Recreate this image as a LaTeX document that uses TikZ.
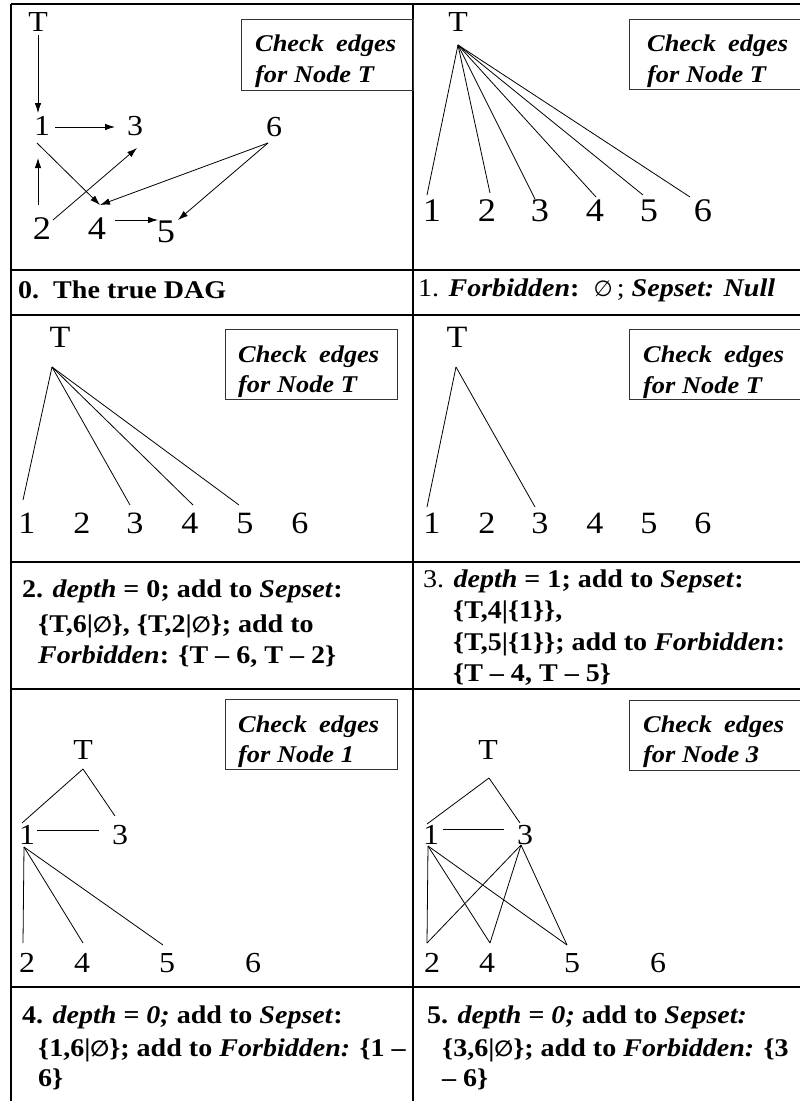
\documentclass[tikz,border=0pt]{standalone}
\usepackage{fontspec}
\setmainfont[FakeStretch=1.1]{Liberation Serif}
\newfontfamily\symfont{DejaVu Sans}
\usetikzlibrary{arrows.meta}
\newcommand{\bi}[1]{\textbf{\textit{#1}}}
\newcommand{\es}{{\symfont\fontsize{22}{26}\selectfont ∅}}
\tikzset{
  tbl/.style={line width=1.3pt},
  edge/.style={line width=0.8pt},
  arr/.style={edge,-{Latex[length=10pt,width=6.5pt]}},
  chkbox/.style={draw=black!80, line width=1pt, anchor=north west, inner sep=0pt},
  chktxt/.style={anchor=base west, inner sep=0pt, font=\fontsize{24}{28}\selectfont\bfseries\itshape},
  lbl/.style={inner sep=0pt, anchor=center, font=\fontsize{29}{34}\selectfont},
  lblbig/.style={inner sep=0pt, anchor=center, font=\fontsize{33}{38}\selectfont},
  lblmid/.style={inner sep=0pt, anchor=center, font=\fontsize{31}{36}\selectfont},
  captxt/.style={anchor=base west, inner sep=0pt, font=\fontsize{25.5}{30}\selectfont\bfseries},
  capn/.style={anchor=base west, inner sep=0pt, font=\fontsize{25.5}{30}\selectfont},
}
\begin{document}
\begin{tikzpicture}[x=1pt,y=-1pt]
\useasboundingbox (0,0) rectangle (800,1101);
\clip (0,0) rectangle (800,1101);
\fill[white] (0,0) rectangle (800,1101);

% ---- table grid ----
\draw[tbl] (11,4) -- (11,1101);
\draw[tbl] (413,4) -- (413,1101);
\foreach \yy in {4,270,315,562,689,987} \draw[tbl] (11,\yy) -- (810,\yy);

% ---- check boxes ----
\node[chkbox, minimum width=172pt, minimum height=71pt] (box0) at (241,19) {};
\node[chktxt] (bt0a) at (255,51) {Check\hspace{0.5em}edges};
\node[chktxt] (bt0b) at (255,82) {for Node T};
\node[chkbox, minimum width=200pt, minimum height=70pt] (box1) at (629,19) {};
\node[chktxt] (bt1a) at (647,51) {Check\hspace{0.5em}edges};
\node[chktxt] (bt1b) at (647,82) {for Node T};
\node[chkbox, minimum width=172pt, minimum height=70pt] (box2) at (225,329) {};
\node[chktxt] (bt2a) at (238,362) {Check\hspace{0.5em}edges};
\node[chktxt] (bt2b) at (238,392) {for Node T};
\node[chkbox, minimum width=200pt, minimum height=70pt] (box3) at (629,329) {};
\node[chktxt] (bt3a) at (643,362) {Check\hspace{0.5em}edges};
\node[chktxt] (bt3b) at (643,393) {for Node T};
\node[chkbox, minimum width=172pt, minimum height=70pt] (box4) at (225,699) {};
\node[chktxt] (bt4a) at (238,732) {Check\hspace{0.5em}edges};
\node[chktxt] (bt4b) at (238,762) {for Node 1};
\node[chkbox, minimum width=200pt, minimum height=70pt] (box5) at (629,700) {};
\node[chktxt] (bt5a) at (643,732) {Check\hspace{0.5em}edges};
\node[chktxt] (bt5b) at (643,762) {for Node 3};

% ---- panel 0: the true DAG ----
\node[lbl] (aT) at (38,22) {T};
\node[lbl] (a1) at (42,126) {1};
\node[lbl] (a3) at (135,126) {3};
\node[lbl] (a6) at (274,127) {6};
\node[lblbig] (a2) at (42,229) {2};
\node[lblbig] (a4) at (97,229) {4};
\node[lblbig] (a5) at (166,232) {5};
\coordinate (aTs) at (38,35);   \coordinate (a1n) at (38,113);
\coordinate (a1e) at (55,127);  \coordinate (a3w) at (115,127);
\coordinate (a1se) at (37,143); \coordinate (a4n) at (100,205);
\coordinate (a2n) at (38,205);  \coordinate (a1s) at (38,158);
\coordinate (a2ne) at (53,220); \coordinate (a3sw) at (137,148);
\coordinate (a4e) at (115,220); \coordinate (a5w) at (158,220);
\coordinate (a6sw) at (268,143);\coordinate (a5ne) at (178,220);
\draw[arr] (aTs) -- (a1n);
\draw[arr] (a1e) -- (a3w);
\draw[arr] (a1se) -- (a4n);
\draw[arr] (a2n) -- (a1s);
\draw[arr] (a2ne) -- (a3sw);
\draw[arr] (a4e) -- (a5w);
\draw[arr] (a6sw) -- (a4n);
\draw[arr] (a6sw) -- (a5ne);
\node[captxt] (c0) at (18,298) {0.\ \ The true DAG};

% ---- panel 1 ----
\node[lbl] (bT) at (458,22) {T};
\coordinate (bA) at (458,45);
\node[lblbig] (b1) at (432,211) {1};
\node[lblbig] (b2) at (487,211) {2};
\node[lblbig] (b3) at (540,211) {3};
\node[lblbig] (b4) at (595,211) {4};
\node[lblbig] (b5) at (649,211) {5};
\node[lblbig] (b6) at (703,211) {6};
\coordinate (b1n) at (427,195); \coordinate (b2n) at (490,193);
\coordinate (b3n) at (535,199); \coordinate (b4n) at (596,197);
\coordinate (b5n) at (643,195); \coordinate (b6n) at (690,197);
\foreach \e in {b1n,b2n,b3n,b4n,b5n,b6n} \draw[edge] (bA) -- (\e);
\node[capn] (c1) at (418,296) {1. \bi{Forbidden}\textbf{:}\ \ \es\,; \bi{Sepset: Null}};

% ---- panel 2 ----
\node[lblmid] (cT) at (60,337) {T};
\coordinate (cA) at (52,367);
\node[lblmid] (c1n) at (27,523) {1};
\node[lblmid] (c2n) at (82,523) {2};
\node[lblmid] (c3n) at (135,523) {3};
\node[lblmid] (c4n) at (190,523) {4};
\node[lblmid] (c5n) at (245,523) {5};
\node[lblmid] (c6n) at (300,523) {6};
\coordinate (c1t) at (23,500); \coordinate (c3t) at (130,505);
\coordinate (c4t) at (193,505); \coordinate (c5t) at (239,505);
\foreach \e in {c1t,c3t,c4t,c5t} \draw[edge] (cA) -- (\e);
\node[captxt] (cap2a) at (22,597) {2. \textit{depth} = 0; add to \textit{Sepset}:};
\node[captxt] (cap2b) at (38,632) {\{T,6|\es\}, \{T,2|\es\}; add to};
\node[captxt] (cap2c) at (38,663) {\textit{Forbidden}: \{T -- 6, T -- 2\}};

% ---- panel 3 ----
\node[lblmid] (dT) at (457,337) {T};
\coordinate (dA) at (456,367);
\node[lblmid] (d1) at (432,523) {1};
\node[lblmid] (d2) at (487,523) {2};
\node[lblmid] (d3) at (540,523) {3};
\node[lblmid] (d4) at (595,523) {4};
\node[lblmid] (d5) at (649,523) {5};
\node[lblmid] (d6) at (703,523) {6};
\coordinate (d1t) at (427,507); \coordinate (d3t) at (535,507);
\draw[edge] (dA) -- (d1t);
\draw[edge] (dA) -- (d3t);
\node[capn] (cap3a) at (423,587) {3. \bi{depth} \textbf{= 1; add to} \bi{Sepset}\textbf{:}};
\node[captxt] (cap3b) at (453,618) {\{T,4|\{1\}\},};
\node[captxt] (cap3c) at (453,650) {\{T,5|\{1\}\}; add to \textit{Forbidden}:};
\node[captxt] (cap3d) at (453,681) {\{T -- 4, T -- 5\}};

% ---- panel 4 ----
\node[lbl] (eT) at (83,750) {T};
\coordinate (eA) at (83,769);
\node[lbl] (e1) at (27,835) {1};
\node[lbl] (e3) at (120,835) {3};
\node[lbl] (e2) at (27,963) {2};
\node[lbl] (e4) at (82,963) {4};
\node[lbl] (e5) at (167,963) {5};
\node[lbl] (e6) at (253,963) {6};
\coordinate (e1t) at (22,823); \coordinate (e3t) at (115,816);
\coordinate (e1r) at (37,830);  \coordinate (e3l) at (99,830);
\coordinate (e1b) at (24,847);
\coordinate (e2t) at (23,943); \coordinate (e4t) at (83,943); \coordinate (e5t) at (163,945);
\draw[edge] (eA) -- (e1t);
\draw[edge] (eA) -- (e3t);
\draw[edge] (e1r) -- (e3l);
\foreach \e in {e2t,e4t,e5t} \draw[edge] (e1b) -- (\e);
\node[captxt] (cap4a) at (22,1023) {4. \textit{depth = 0;} add to \textit{Sepset}:};
\node[captxt] (cap4b) at (38,1056) {\{1,6|\es\}; add to \textit{Forbidden:} \{1 --};
\node[captxt] (cap4c) at (38,1086) {6\}};

% ---- panel 5 ----
\node[lbl] (fT) at (488,750) {T};
\coordinate (fA) at (489,778);
\node[lbl] (f1) at (431,835) {1};
\node[lbl] (f3) at (525,835) {3};
\node[lbl] (f2) at (432,963) {2};
\node[lbl] (f4) at (487,963) {4};
\node[lbl] (f5) at (572,963) {5};
\node[lbl] (f6) at (658,963) {6};
\coordinate (f1t) at (427,824); \coordinate (f3t) at (520,823);
\coordinate (f1r) at (443,829); \coordinate (f3l) at (504,829);
\coordinate (f1b) at (428,846); \coordinate (f3b) at (521,845);
\coordinate (f2t) at (427,943); \coordinate (f4t) at (490,943); \coordinate (f5t) at (567,945);
\draw[edge] (fA) -- (f1t);
\draw[edge] (fA) -- (f3t);
\draw[edge] (f1r) -- (f3l);
\foreach \e in {f2t,f4t,f5t} {\draw[edge] (f1b) -- (\e); \draw[edge] (f3b) -- (\e);}
\node[captxt] (cap5a) at (427,1023) {5. \textit{depth = 0;} add to \textit{Sepset:}};
\node[captxt] (cap5b) at (442,1056) {\{3,6|\es\}; add to \textit{Forbidden:} \{3};
\node[captxt] (cap5c) at (442,1086) {-- 6\}};
\end{tikzpicture}
\end{document}
